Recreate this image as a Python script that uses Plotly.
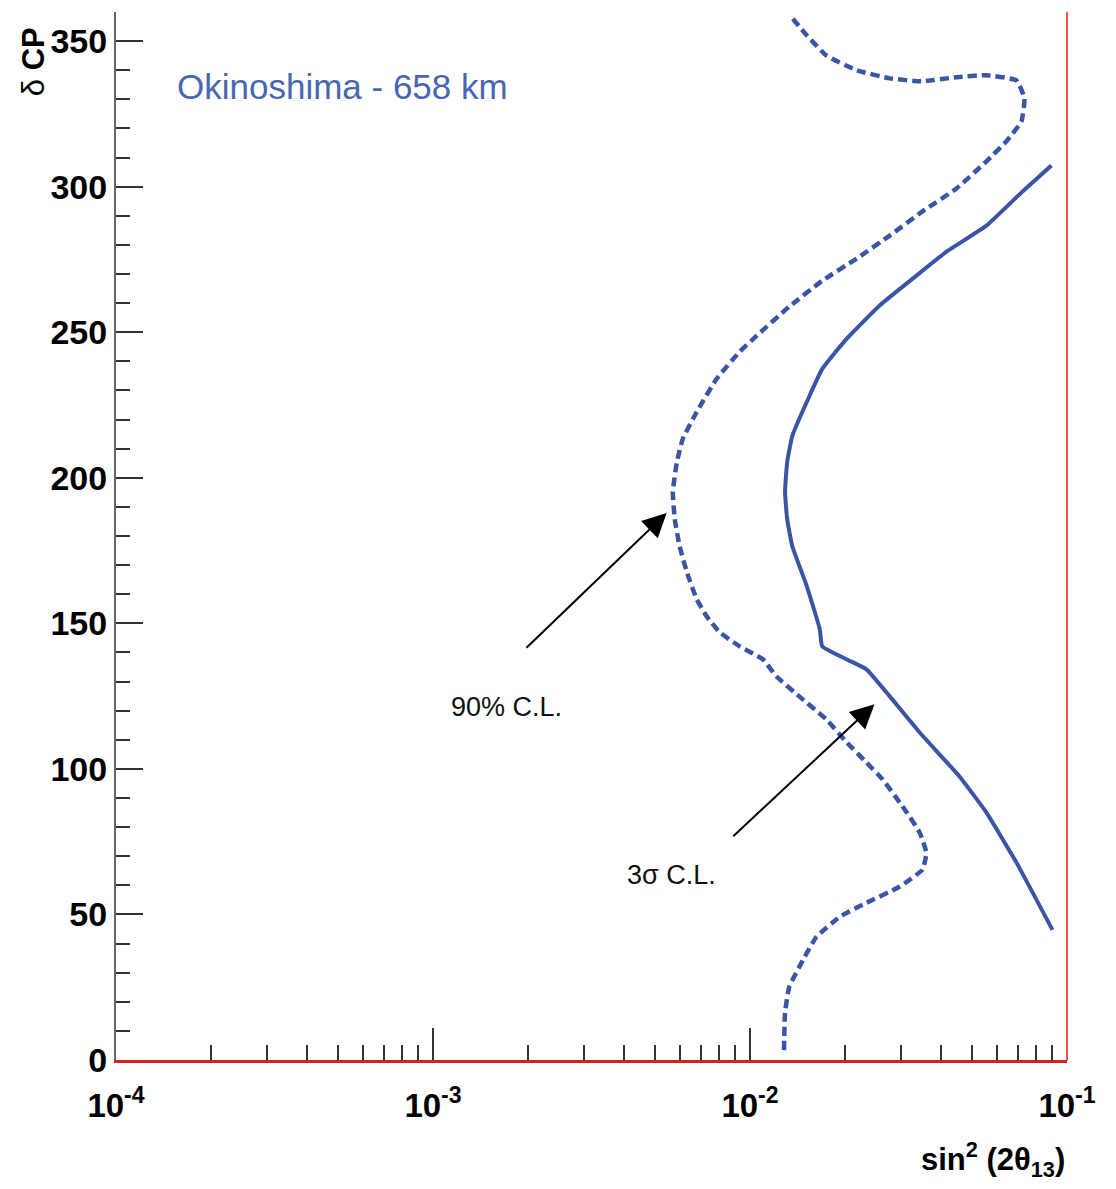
import math
import plotly.graph_objects as go

# 90% C.L. contour (dashed): sin^2(2theta13) vs delta_CP [deg]
cl90_s2t = [0.0128, 0.0129, 0.0133, 0.0147, 0.0162, 0.0192, 0.0233, 0.0296, 0.0350, 0.0360,
            0.0343, 0.0303, 0.0262, 0.0233, 0.0202, 0.0174, 0.0143, 0.0121, 0.0110, 0.00928,
            0.00803, 0.00730, 0.00679, 0.00632, 0.00600, 0.00579, 0.00571, 0.00588, 0.00614,
            0.00679, 0.00785, 0.00928, 0.0105, 0.0133, 0.0169, 0.0217, 0.0276, 0.0350, 0.0448,
            0.0557, 0.0644, 0.0718, 0.0734, 0.0693, 0.0557, 0.0448, 0.0350, 0.0276, 0.0217,
            0.0174, 0.0151, 0.0136]
cl90_dcp = [3.4, 16.2, 25.1, 34.4, 42.3, 49.2, 54.0, 59.5, 65.4, 71.2,
            78.1, 87.1, 96.4, 102.2, 109.1, 117.0, 124.9, 131.8, 137.6, 142.1,
            146.9, 152.4, 158.3, 167.6, 176.5, 185.8, 195.1, 205.4, 213.4,
            222.6, 234.0, 243.3, 248.8, 258.8, 267.7, 275.3, 283.2, 291.5, 299.4,
            308.7, 315.6, 322.4, 330.4, 336.5, 338.3, 337.6, 336.2, 337.2, 340.0,
            345.1, 352.0, 357.9]

# 3 sigma C.L. contour (solid)
cl3s_s2t = [0.0893, 0.0723, 0.0557, 0.0417, 0.0326, 0.0256, 0.0202, 0.0169, 0.0154, 0.0136,
            0.0131, 0.0129, 0.0131, 0.0136, 0.0151, 0.0166, 0.0169, 0.0202, 0.0233, 0.0276,
            0.0343, 0.0458, 0.0557, 0.0693, 0.0900]
cl3s_dcp = [307.3, 298.3, 286.6, 277.7, 268.4, 259.1, 247.8, 237.4, 228.1, 214.4,
            205.4, 195.1, 185.8, 176.5, 162.8, 148.0, 142.1, 137.6, 134.2, 124.9,
            112.5, 97.4, 85.0, 67.8, 44.7]

# axis ticks
x_major = [1e-4, 1e-3, 1e-2, 1e-1]
x_major_text = ["<b>10<sup>-4</sup></b>", "<b>10<sup>-3</sup></b>",
                "<b>10<sup>-2</sup></b>", "<b>10<sup>-1</sup></b>"]
x_minor = [m * d for d in (1e-4, 1e-3, 1e-2) for m in range(2, 10)]
y_major = [0, 50, 100, 150, 200, 250, 300, 350]
y_major_text = ["<b>%d</b>" % v for v in y_major]

# labels with arrows
label_text = ["90% C.L.", "3σ C.L."]
label_pos = [(0.00171, 121.1), (0.00566, 63.7)]
arrow_tail = [(0.00195, 141.1), (0.00876, 76.4)]
arrow_head = [(0.00546, 187.9), (0.0247, 122.2)]

site_title = "Okinoshima - 658 km"

BLUE = "#3b55a5"
FONT = "Liberation Sans, Arial, sans-serif"

fig = go.Figure()
fig.add_trace(go.Scatter(x=cl90_s2t, y=cl90_dcp, mode="lines",
                         line=dict(color=BLUE, width=4.5, dash="9px,5px",
                                   shape="spline", smoothing=0.4),
                         showlegend=False))
fig.add_trace(go.Scatter(x=cl3s_s2t, y=cl3s_dcp, mode="lines",
                         line=dict(color=BLUE, width=4, shape="spline", smoothing=0.4),
                         showlegend=False))

annotations = []
for txt, (lx, ly) in zip(label_text, label_pos):
    annotations.append(dict(x=math.log10(lx), y=ly, xref="x", yref="y", text=txt,
                            showarrow=False, font=dict(family=FONT, size=27, color="#111"),
                            xanchor="center", yanchor="middle"))
for (tx, ty), (hx, hy) in zip(arrow_tail, arrow_head):
    annotations.append(dict(x=math.log10(hx), y=hy, xref="x", yref="y",
                            ax=math.log10(tx), ay=ty, axref="x", ayref="y",
                            text="", showarrow=True, arrowhead=2, arrowsize=2.4,
                            arrowwidth=2, arrowcolor="black"))
annotations.append(dict(x=math.log10(1.538e-4), y=334.5, xref="x", yref="y", text=site_title,
                        showarrow=False, xanchor="left", yanchor="middle",
                        font=dict(family=FONT, size=35, color="#4a66b3")))
annotations.append(dict(x=1.0, y=-0.0954, xref="paper", yref="paper",
                        text="<b>sin<sup>2</sup> (2θ<sub>13</sub>)</b>",
                        showarrow=False, xanchor="right", yanchor="middle",
                        font=dict(family=FONT, size=31, color="black")))
annotations.append(dict(x=-0.086, y=0.9523, xref="paper", yref="paper",
                        text="δ <b>CP</b>", textangle=-90,
                        showarrow=False, xanchor="center", yanchor="middle",
                        font=dict(family=FONT, size=31, color="black")))

fig.update_layout(
    width=1116, height=1189, autosize=False,
    margin=dict(l=116, r=49, t=12, b=129),
    plot_bgcolor="white", paper_bgcolor="white",
    annotations=annotations,
    shapes=[dict(type="line", xref="paper", yref="paper", x0=1, x1=1, y0=0, y1=1,
                 line=dict(color="#f05050", width=2))],
    xaxis=dict(type="log", range=[-4, -1], showgrid=False, zeroline=False,
               tickvals=x_major, ticktext=x_major_text,
               ticks="inside", ticklen=32, tickwidth=1.5, tickcolor="#333",
               minor=dict(tickvals=x_minor, ticks="inside", ticklen=15, tickwidth=1.5,
                          tickcolor="#333", showgrid=False),
               showline=True, linecolor="#d82020", linewidth=3,
               ticklabelstandoff=14,
               tickfont=dict(family=FONT, size=33, color="black")),
    yaxis=dict(range=[0, 360], showgrid=False, zeroline=False,
               tickvals=y_major, ticktext=y_major_text,
               ticks="inside", ticklen=27, tickwidth=1.5, tickcolor="#333",
               minor=dict(dtick=10, ticks="inside", ticklen=14, tickwidth=1.5,
                          tickcolor="#333", showgrid=False),
               showline=True, linecolor="#666", linewidth=2,
               ticklabelstandoff=0,
               tickfont=dict(family=FONT, size=34, color="black")),
)

fig.write_html("out.html")
